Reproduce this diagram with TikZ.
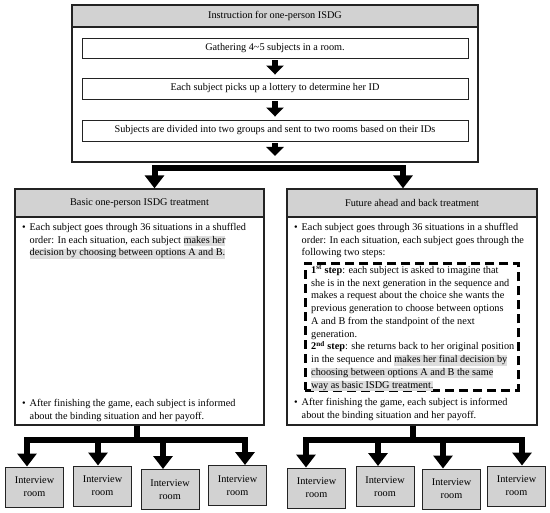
\documentclass[tikz,border=0pt]{standalone}
\usepackage{fontspec}
\setmainfont{Liberation Serif}
\usepackage{xcolor}
\usetikzlibrary{arrows.meta, positioning, calc}

\definecolor{HeadGray}{RGB}{210,210,210}
\definecolor{MarkGray}{RGB}{222,222,222}
\definecolor{LineGray}{RGB}{35,35,35}

\newcommand{\bodyfont}{\fontsize{10.3}{12.8}\selectfont}
\newcommand{\hlmark}[1]{{\setlength{\fboxsep}{0pt}\colorbox{MarkGray}{\rule[-3pt]{0pt}{9.6pt}#1}}}
\newcommand{\bul}{\makebox[7.5bp][l]{\textbullet}}
\newcommand{\ind}{\hspace*{7.5bp}}

\tikzstyle{panel} = [
  rectangle, draw=LineGray, line width=1.3bp, inner sep=0pt
]
\tikzstyle{header} = [
  rectangle, draw=LineGray, fill=HeadGray, line width=1.3bp,
  inner sep=0pt, font=\bodyfont
]
\tikzstyle{stepbox} = [
  rectangle, draw=LineGray, line width=0.9bp,
  minimum width=386bp, inner sep=0pt, font=\bodyfont
]
\tikzstyle{roombox} = [
  rectangle, draw=LineGray, fill=HeadGray, line width=1bp,
  minimum width=58bp, minimum height=40bp, inner sep=0pt,
  align=center, font=\bodyfont
]
\tikzstyle{textblock} = [anchor=north west, align=left, inner sep=0pt, font=\bodyfont]
\tikzstyle{dashbox} = [
  rectangle, draw=black, line width=2.6bp, dash pattern=on 9bp off 5bp,
  anchor=north west, inner sep=0pt
]
\tikzstyle{flow} = [line width=6bp, -{Triangle[width=17bp,length=9bp]},
  shorten <=2bp, shorten >=3bp]
\tikzstyle{bar} = [line width=6bp, line join=miter]
\tikzstyle{bararrow} = [bar, -{Triangle[width=19bp,length=13bp]}]

\begin{document}
\begin{tikzpicture}[x=1bp, y=-1bp]
  \useasboundingbox (0,0) rectangle (550,513);

  % Instruction panel
  \node[panel, minimum width=406bp, minimum height=157bp] (instr) at (275,83.5) {};
  \node[header, minimum width=406bp, minimum height=22bp] (instrhdr) at (275,16)
    {Instruction for one-person ISDG};

  \node[stepbox, minimum height=20bp] (gather) at (275,48)
    {Gathering 4\textasciitilde5 subjects in a room.};
  \node[stepbox, minimum height=21bp] (lottery) at (275,88.5)
    {Each subject picks up a lottery to determine her ID};
  \node[stepbox, minimum height=21bp] (divide) at (275,130.5)
    {Subjects are divided into two groups and sent to two rooms based on their IDs};
  \coordinate (instrout) at (275,159);

  \draw[flow] (gather) -- (lottery);
  \draw[flow] (lottery) -- (divide);
  \draw[flow] (divide) -- (instrout);

  % Treatment panels
  \node[panel, minimum width=249bp, minimum height=236bp] (basic) at (139.5,307) {};
  \node[header, minimum width=249bp, minimum height=28bp] (basichdr) at (139.5,203)
    {Basic one-person ISDG treatment};
  \node[panel, minimum width=250bp, minimum height=236bp] (future) at (412,307) {};
  \node[header, minimum width=250bp, minimum height=28bp] (futurehdr) at (412,203)
    {Future ahead and back treatment};

  % Split into the two treatments
  \coordinate (split) at (280,168);
  \draw[bararrow] (split) -| ([xshift=15bp]basichdr.north);
  \draw[bararrow] (split) -| ([xshift=-9bp]futurehdr.north);

  % Basic treatment text
  \node[textblock] (basicfirst) at (22,223)
    {\bul Each subject goes through 36 situations in a shuffled\\
     \ind order: In each situation, each subject \hlmark{makes her}\\
     \ind\hlmark{decision by choosing between options A and B.}};
  \node[textblock] (basiclast) at (22,399)
    {\bul After finishing the game, each subject is informed\\
     \ind about the binding situation and her payoff.};

  % Future ahead and back text
  \node[textblock] (futurefirst) at (294,223)
    {\bul Each subject goes through 36 situations in a shuffled\\
     \ind order: In each situation, each subject goes through the\\
     \ind following two steps:};
  \node[dashbox, minimum width=213bp, minimum height=127bp] (stepframe) at (304,262) {};
  \node[textblock] (steptext) at (311,265.5)
    {\textbf{1\textsuperscript{st} step}: each subject is asked to imagine that\\
     she is in the next generation in the sequence and\\
     makes a request about the choice she wants the\\
     previous generation to choose between options\\
     A and B from the standpoint of the next\\
     generation.\\
     \textbf{2\textsuperscript{nd} step}: she returns back to her original position\\
     in the sequence and \hlmark{makes her final decision by}\\
     \hlmark{choosing between options A and B the same}\\
     \hlmark{way as basic ISDG treatment.}};
  \node[textblock] (futurelast) at (294,398)
    {\bul After finishing the game, each subject is informed\\
     \ind about the binding situation and her payoff.};

  % Interview rooms
  \foreach \i/\x/\y in {1/34.5/487, 2/102.5/486, 3/170/489.5, 4/237.5/485.5}
    \node[roombox] (l\i) at (\x,\y) {Interview\\room};
  \foreach \i/\x/\y in {1/316.5/488, 2/385/486.5, 3/451.5/489, 4/516.5/486}
    \node[roombox] (r\i) at (\x,\y) {Interview\\room};

  % Basic treatment to rooms
  \coordinate (basichub) at (137,440);
  \draw[bar] (basic.south -| basichub) -- (basichub);
  \foreach \i/\dx in {1/-7.5,2/-4.5,3/-7,4/7.5}
    \draw[bararrow] (basichub) -| ([xshift=\dx bp]l\i.north);

  % Future treatment to rooms
  \coordinate (futurehub) at (413,440);
  \draw[bar] (future.south -| futurehub) -- (futurehub);
  \foreach \i/\dx in {1/-10.5,2/-7,3/-8.5,4/5.5}
    \draw[bararrow] (futurehub) -| ([xshift=\dx bp]r\i.north);

\end{tikzpicture}
\end{document}
